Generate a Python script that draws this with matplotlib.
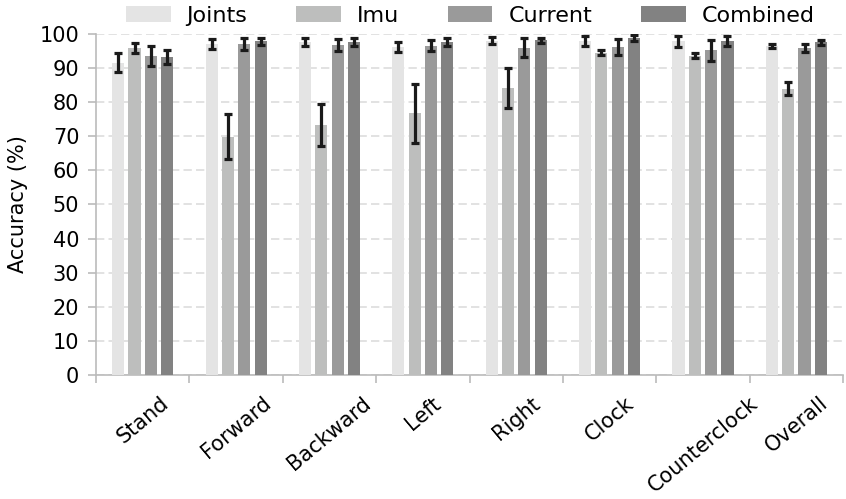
#!/usr/bin/env python3
"""Grouped bar chart of per-motion accuracy for the four sensor inputs."""

import matplotlib

matplotlib.use("Agg")
import matplotlib.pyplot as plt  # noqa: E402
import numpy as np  # noqa: E402


categories = ["Stand", "Forward", "Backward", "Left", "Right",
              "Clock", "Counterclock", "Overall"]
series_names = ["Joints", "Imu", "Current", "Combined"]

joints_mean = [91.6, 97.1, 97.7, 96.2, 98.0, 97.9, 97.9, 96.5]
joints_err = [2.8, 1.5, 1.1, 1.4, 1.0, 1.5, 1.6, 0.6]
imu_mean = [95.8, 69.9, 73.3, 76.7, 84.1, 94.5, 93.6, 84.0]
imu_err = [1.5, 6.5, 6.2, 8.6, 5.9, 0.7, 0.7, 2.0]
current_mean = [93.6, 97.1, 96.8, 96.5, 95.9, 96.1, 95.2, 95.8]
current_err = [2.9, 1.8, 1.8, 1.6, 2.8, 2.4, 3.1, 1.2]
combined_mean = [93.3, 97.9, 97.7, 97.7, 98.1, 98.8, 97.9, 97.5]
combined_err = [2.1, 1.0, 1.1, 1.2, 0.7, 0.8, 1.4, 0.7]

colors = ["#e4e4e4", "#bdbebd", "#9a9a9a", "#828282"]


def main():
    means = [joints_mean, imu_mean, current_mean, combined_mean]
    errs = [joints_err, imu_err, current_err, combined_err]

    fig = plt.figure(figsize=(8.46, 4.99), dpi=100)
    ax = fig.add_axes([0.1135, 0.2485, 0.8830, 0.6835])

    x = np.arange(len(categories))
    step = 0.175
    width = 0.13
    for i, (name, m, e) in enumerate(zip(series_names, means, errs)):
        ax.bar(x + (i - 1.5) * step, m, width, color=colors[i], label=name,
               yerr=e, capsize=3.0, zorder=3,
               error_kw=dict(ecolor="#1a1a1a", elinewidth=2.3, capthick=2.3))

    ax.set_xlim(-0.5, len(categories) - 0.5)
    ax.set_ylim(0, 100)
    ax.set_yticks(np.arange(0, 101, 10))
    ax.set_ylabel("Accuracy (%)", fontsize=15, labelpad=8)

    # tick marks sit between the groups, labels sit under the group centres
    ax.set_xticks(np.arange(len(categories) + 1) - 0.5)
    ax.set_xticklabels([])
    ax.set_xticks(x, minor=True)
    ax.set_xticklabels(categories, minor=True, rotation=40, ha="center",
                       fontsize=15)
    ax.tick_params(axis="x", which="major", length=6, width=1.2,
                   color="#bbbbbb")
    ax.tick_params(axis="x", which="minor", length=0, pad=13)
    ax.tick_params(axis="y", length=6, width=1.2, color="#bbbbbb",
                   labelsize=15, pad=6)

    ax.grid(axis="y", color="#dddddd", linestyle="--", linewidth=1.2,
            dashes=(5, 2.5), zorder=0)
    ax.set_axisbelow(True)
    for side in ("top", "right"):
        ax.spines[side].set_visible(False)
    for side in ("left", "bottom"):
        ax.spines[side].set_color("#bbbbbb")
        ax.spines[side].set_linewidth(1.2)

    fig.legend(loc="upper center", bbox_to_anchor=(0.556, 1.028), ncol=4,
               frameon=False, fontsize=16, handlelength=2.0,
               handletextpad=0.72, columnspacing=2.2)

    fig.savefig("out.png")
    plt.close(fig)


if __name__ == "__main__":
    main()
